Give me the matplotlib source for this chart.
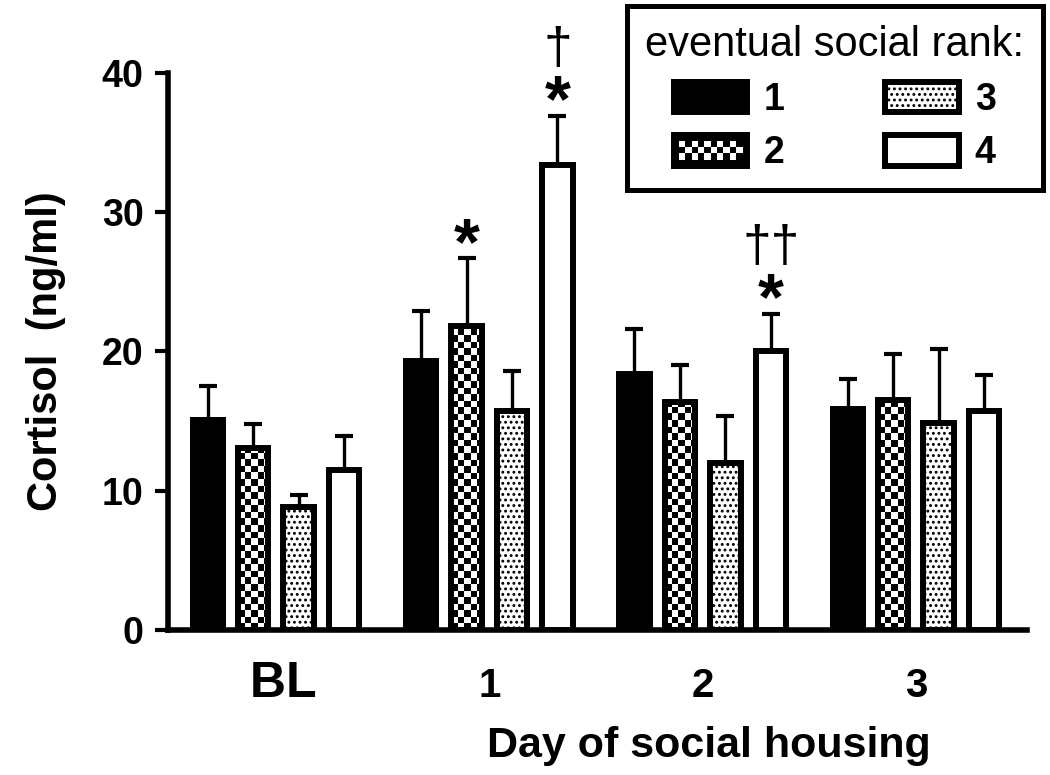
import numpy as np
import matplotlib
matplotlib.use("Agg")
import matplotlib.pyplot as plt
from matplotlib.patches import Patch, Rectangle
from matplotlib.legend_handler import HandlerBase

plt.rcParams['font.family'] = ['Liberation Sans', 'DejaVu Sans']
plt.rcParams['hatch.linewidth'] = 1.3

# data
days = [" BL", "1", "2", "3"]
ranks = ["1", "2", "3", "4"]
rank1 = [15.1, 19.3, 18.4, 15.9]
rank1_err = [2.4, 3.6, 3.2, 2.1]
rank2 = [13.1, 21.8, 16.4, 16.5]
rank2_err = [1.7, 4.9, 2.6, 3.3]
rank3 = [8.8, 15.7, 12.0, 14.9]
rank3_err = [0.9, 2.9, 3.4, 5.3]
rank4 = [11.5, 33.4, 20.0, 15.7]
rank4_err = [2.4, 3.5, 2.7, 2.6]

# significance: (day index, rank index, symbol)
stars = [(1, 1, "*"), (1, 3, "*"), (2, 3, "*")]
daggers = [(1, 3, "\u2020"), (2, 3, "\u2020\u2020")]

means = [rank1, rank2, rank3, rank4]
errs = [rank1_err, rank2_err, rank3_err, rank4_err]

EDGE = 4.3
pitch = 0.213
width = 0.143
x = np.arange(len(days))

fig = plt.figure(figsize=(10.5, 7.75), dpi=100)
ax = fig.add_axes([0.160, 0.187, 0.818, 0.719])

bars = []
for i in range(4):
    xi = x + (i - 1.5) * pitch
    if i == 0:
        b = ax.bar(xi, means[i], width, color="black", edgecolor="black", lw=EDGE, zorder=3)
    elif i == 1:
        b = ax.bar(xi, means[i], width, facecolor="none", edgecolor="black", lw=EDGE, zorder=3)
    elif i == 2:
        b = ax.bar(xi, means[i], width, facecolor="white", edgecolor="black", lw=EDGE,
                   hatch="...", zorder=3)
    else:
        b = ax.bar(xi, means[i], width, facecolor="white", edgecolor="black", lw=EDGE, zorder=3)
    ax.errorbar(xi, means[i], yerr=[np.zeros(4), errs[i]], fmt="none", ecolor="black",
                elinewidth=2.4, capsize=6.8, capthick=3.0, zorder=1)
    bars.append(b)

# checkerboard fill for rank 2
cx, cy = 0.0305, 0.47
for rect in bars[1]:
    x0, w, h = rect.get_x(), rect.get_width(), rect.get_height()
    ncol = int(np.ceil(w / cx))
    nrow = int(np.ceil(h / cy))
    board = np.indices((nrow, ncol)).sum(axis=0) % 2
    im = ax.imshow(board, cmap="gray", extent=(x0, x0 + ncol * cx, 0, nrow * cy),
                   origin="lower", aspect="auto", interpolation="nearest", zorder=2)
    im.set_clip_path(rect)

# stars and daggers
for d, r, s in stars:
    xs = x[d] + (r - 1.5) * pitch
    top = means[r][d] + errs[r][d]
    ax.annotate(s, xy=(xs, top), xytext=(0, -4), textcoords="offset points",
                ha="center", va="baseline", fontsize=48, fontweight="bold")
for d, r, s in daggers:
    xs = x[d] + (r - 1.5) * pitch
    top = means[r][d] + errs[r][d]
    ax.annotate(s, xy=(xs, top), xytext=(0, 47), textcoords="offset points",
                ha="center", va="center", fontsize=37)

ax.set_xlim(-0.506, 3.52)
ax.set_ylim(0, 40)
ax.set_yticks([0, 10, 20, 30, 40])
ax.set_xticks(x)
ax.set_xticklabels(days)
ax.spines["top"].set_visible(False)
ax.spines["right"].set_visible(False)
ax.spines["left"].set_linewidth(4)
ax.spines["bottom"].set_linewidth(4)
ax.tick_params(axis="y", length=9.5, width=3, pad=8, labelsize=27)
ax.tick_params(axis="x", length=0, pad=48)
for lab in ax.get_yticklabels():
    lab.set_fontweight("bold")
for lab in ax.get_xticklabels():
    lab.set_fontweight("bold")
    lab.set_va("baseline")
    lab.set_fontsize(36 if "BL" in lab.get_text() else 29)

ax.set_ylabel("Cortisol  (ng/ml)", fontsize=30, fontweight="bold")
ax.yaxis.set_label_coords(-0.119, 0.5)
ax.set_xlabel("Day of social housing", fontsize=31, fontweight="bold")
ax.xaxis.set_label_coords(0.630, -0.228)
ax.xaxis.label.set_va("baseline")


class CheckerHandler(HandlerBase):
    def create_artists(self, legend, orig_handle, xdescent, ydescent, width, height, fontsize, trans):
        x0, y0 = -xdescent, -ydescent
        arts = [Rectangle((x0, y0), width, height, facecolor="black", edgecolor="black",
                          lw=EDGE, transform=trans)]
        inset = 2.5
        cell = 4.6
        nx = int((width - 2 * inset) // cell)
        ny = int((height - 2 * inset) // cell)
        gx = x0 + (width - nx * cell) / 2
        gy = y0 + (height - ny * cell) / 2
        for i in range(nx):
            for j in range(ny):
                if (i + j) % 2 == 0:
                    arts.append(Rectangle((gx + i * cell, gy + j * cell), cell, cell,
                                          facecolor="white", lw=0, transform=trans))
        return arts


handles = [
    Patch(facecolor="black", edgecolor="black", lw=EDGE),
    Patch(facecolor="black", edgecolor="black", lw=EDGE, label="checker"),
    Patch(facecolor="white", edgecolor="black", lw=EDGE, hatch="..."),
    Patch(facecolor="white", edgecolor="black", lw=EDGE),
]
leg = fig.legend(handles, ranks, loc="upper right", bbox_to_anchor=(0.9935, 0.992),
                 borderaxespad=0, ncols=2, title="eventual social rank:", title_fontsize=30,
                 prop={"weight": "bold", "size": 27}, fancybox=False, framealpha=1,
                 edgecolor="black", handlelength=1.95, handleheight=0.88,
                 handletextpad=0.43, columnspacing=2.7, labelspacing=0.45,
                 borderpad=0.5, handler_map={handles[1]: CheckerHandler()})
leg.get_frame().set_linewidth(3.6)

fig.savefig("out.png", dpi=100)
